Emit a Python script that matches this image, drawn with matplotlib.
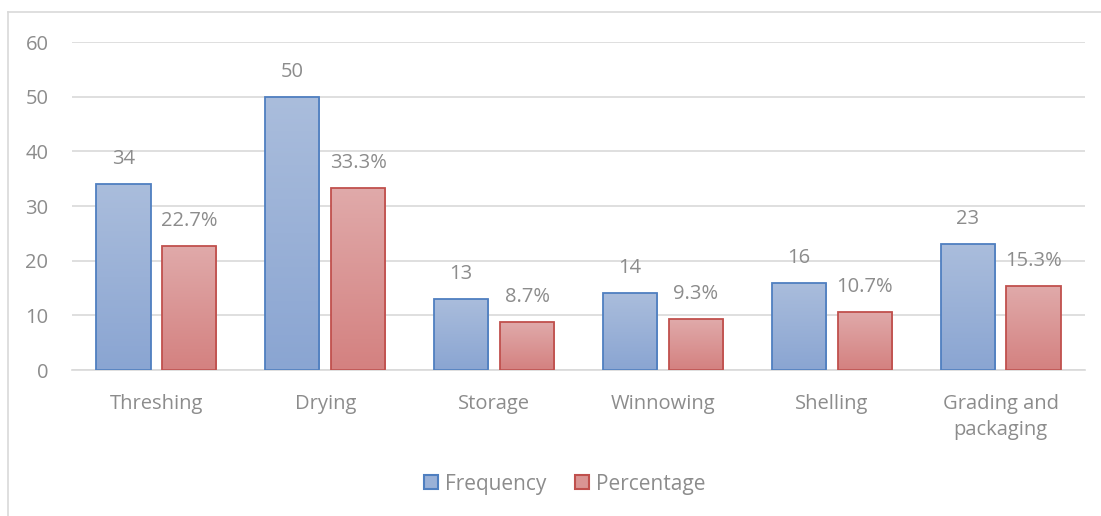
import numpy as np
import matplotlib
matplotlib.use("Agg")
from matplotlib import pyplot as plt
from matplotlib.patches import Patch
from matplotlib.colors import LinearSegmentedColormap
from matplotlib.lines import Line2D

plt.rcParams['font.family'] = ['Open Sans', 'DejaVu Sans']

# data
categories = ['Threshing', 'Drying', 'Storage', 'Winnowing', 'Shelling', 'Grading and\npackaging']
frequency = [34, 50, 13, 14, 16, 23]
percentage = [22.7, 33.3, 8.7, 9.3, 10.7, 15.3]
series_names = ['Frequency', 'Percentage']

text_grey = '#8c8c8c'
grid_grey = '#d9d9d9'
blue_edge = '#4f7fc0'
red_edge = '#c0504d'
blue_cmap = LinearSegmentedColormap.from_list('b', ['#8aa5d2', '#aabddc'])
red_cmap = LinearSegmentedColormap.from_list('r', ['#d48180', '#e0aaaa'])
fs = 14.5

fig = plt.figure(figsize=(11.01, 5.16), dpi=100)
ax = fig.add_axes([72 / 1101, 1 - 370 / 516, 1013 / 1101, 328 / 516])

x = np.arange(len(categories))
width = 0.32
gap = 0.07
grad = np.linspace(0, 1, 256).reshape(-1, 1)

ax.set_xlim(-0.5, len(categories) - 0.5)
ax.set_ylim(0, 60)


def gradient_bars(xs, vals, cmap, edge, fmt):
    bars = ax.bar(xs, vals, width, facecolor='none', edgecolor=edge, linewidth=1.3, zorder=3)
    for b, v in zip(bars, vals):
        x0, w, h = b.get_x(), b.get_width(), b.get_height()
        im = ax.imshow(grad, extent=[x0, x0 + w, 0, h], origin='lower', cmap=cmap,
                       aspect='auto', zorder=2, interpolation='bicubic')
        im.set_clip_path(b)
        ax.annotate(fmt(v), (b.get_x() + w / 2, h), xytext=(0, 18), textcoords='offset points',
                    ha='center', va='center', fontsize=fs, color=text_grey)


gradient_bars(x - (width + gap) / 2, frequency, blue_cmap, blue_edge, lambda v: f'{v:g}')
gradient_bars(x + (width + gap) / 2, percentage, red_cmap, red_edge, lambda v: f'{v:.1f}%')

ax.set_xlim(-0.5, len(categories) - 0.5)
ax.set_ylim(0, 60)
ax.set_yticks(range(0, 61, 10))
ax.yaxis.grid(True, color=grid_grey, linewidth=1.2, zorder=0)
ax.set_axisbelow(True)
for s in ['top', 'right', 'left']:
    ax.spines[s].set_visible(False)
ax.spines['bottom'].set_color(grid_grey)
ax.spines['bottom'].set_linewidth(1.2)
ax.set_xticks(x)
ax.set_xticklabels(categories, linespacing=1.45)
ax.tick_params(axis='x', length=0, pad=17, labelsize=fs, labelcolor=text_grey)
ax.tick_params(axis='y', length=0, pad=17, labelsize=fs, labelcolor=text_grey)

handles = [Patch(facecolor='#9ab1d7', edgecolor=blue_edge, linewidth=1.5),
           Patch(facecolor='#da9594', edgecolor=red_edge, linewidth=1.5)]
leg = fig.legend(handles, series_names, loc='center', bbox_to_anchor=(0.513, 0.062), ncol=2,
                 frameon=False, fontsize=15, handlelength=0.65, handleheight=0.65,
                 handletextpad=0.35, columnspacing=1.4)
for t in leg.get_texts():
    t.set_color(text_grey)

# outer frame (top and left edges visible)
fig.add_artist(Line2D([8 / 1101, 1], [1 - 11.5 / 516, 1 - 11.5 / 516], color=grid_grey, linewidth=1.2))
fig.add_artist(Line2D([8 / 1101, 8 / 1101], [0, 1 - 11.5 / 516], color=grid_grey, linewidth=1.2))

fig.savefig('out.png', dpi=100)
